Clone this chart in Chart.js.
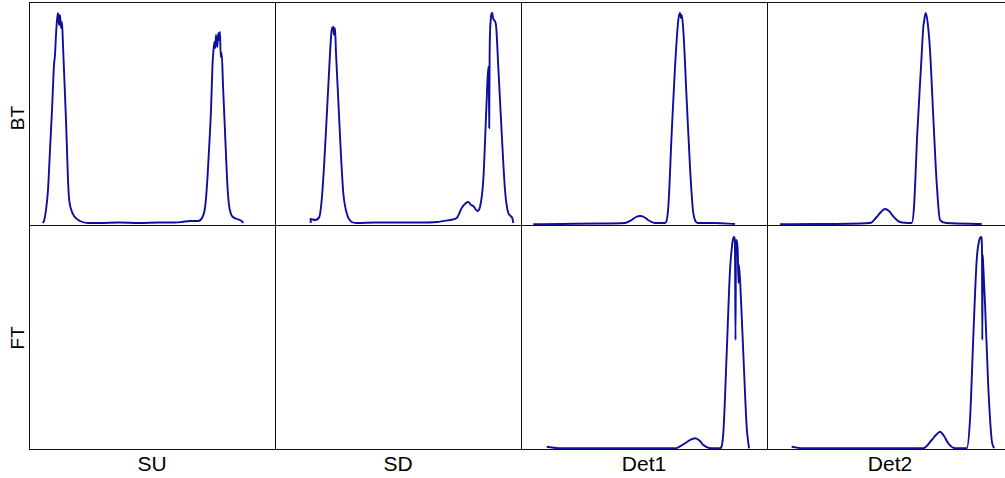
<!DOCTYPE html>
<html>
<head>
<meta charset="utf-8">
<script src="https://cdn.jsdelivr.net/npm/chart.js@4/dist/chart.umd.min.js"></script>
<style>
  html,body{margin:0;padding:0;background:#fff;}
  body{width:1005px;height:478px;overflow:hidden;position:relative;font-family:"Liberation Sans",Arial,Helvetica,sans-serif;color:#000;}
  canvas{position:absolute;}
  .ln{position:absolute;background:#111;z-index:5;}
  .lab{position:absolute;font-size:21px;line-height:1;white-space:nowrap;transform:translate(-50%,-50%);}
  .rlab{position:absolute;font-size:19px;line-height:1;white-space:nowrap;transform:translate(-50%,-50%) rotate(-90deg);}
</style>
</head>
<body>
<script>
// ---- data (x: channel, y: counts) ----
const columns = ['SU', 'SD', 'Det1', 'Det2'];
const rows = ['BT', 'FT'];

const BT_SU = [[13.7,2],[15,4],[17,15],[19,35],[21,75],[23,115],[25,160],[26,170],[27,190],[28,205],[29,212],[30,200],[31,210],[32,197],[33,203],[34,180],[35,155],[36,130],[37,105],[38,75],[39,45],[40,27],[42,16],[45,9],[51,4],[59,2],[70,2],[90,2.5],[110,2],[130,2.5],[146,2.5],[153,3],[161,4],[169,4],[173,7],[176,17],[178,40],[180,75],[182,115],[183.5,160],[184.5,175],[185.5,183],[186.3,177],[187,190],[188.3,178],[189.3,192],[190,185],[191,193],[191.7,168],[192.7,172],[194,140],[195.5,105],[197,70],[198.5,38],[200,20],[202,11],[204,8],[208,6],[212.7,4],[214.3,2]];

const BT_SD = [[35.7,2],[35.7,6],[40,5],[44.3,8],[46.7,25],[49,58],[51.7,108],[54.3,158],[56.7,195],[58.3,198],[59,190],[60,197],[61,172],[63.3,125],[65.7,75],[68.3,32],[71.7,12],[76.7,3],[81.7,2],[100,2.5],[125,2.5],[145,2.5],[161.7,3],[175,5],[181.7,7],[186.7,17],[191,22],[193.3,23],[196,20],[198.3,19],[202.3,14],[205,18],[208.3,45],[211.7,125],[213.3,158],[213.8,155],[214.2,97],[214.6,165],[215,192],[217.3,212],[218,207],[219,205],[221,200],[223.3,158],[226.7,92],[230,35],[233.3,12],[237.3,7],[238.3,2]];

const BT_DET1 = [[12.3,0.7],[40,1],[79,1.5],[104,2],[110.7,5],[115,8],[119,9],[123,8],[127,5],[134,2],[144,2],[147.3,18],[150.7,92],[154,158],[157.3,205],[159,212],[160,207],[160.7,210],[162.3,195],[165.7,125],[169,58],[172.3,12],[177.3,2],[194,2],[214,1]];

const BT_DET2 = [[13,0.7],[50,1],[103,2],[109.7,8],[114,13],[118,16],[122,14],[126,9],[133,3],[144.7,2],[147,18],[150.3,92],[154,158],[156.3,198],[157,203],[158.7,212],[160.7,202],[163,175],[166.3,108],[169.7,42],[173,5],[179.7,2],[214.7,1]];

const FT_SU = [];
const FT_SD = [];

const FT_DET1 = [[25.7,2.3],[31,1.5],[37.3,0.7],[100,0.7],[154,0.7],[164,5.7],[169,9],[174,10.7],[179,8],[182.3,4],[190.7,0.7],[199,0.7],[202.3,15.7],[205.7,96],[209,179],[211.3,206],[212.3,211],[213.3,212],[214,199],[214.5,109],[215,209],[216.7,199],[217.5,166],[218,184],[220,149],[222.3,96],[225.7,22],[228,0.7]];

const FT_DET2 = [[24.7,2.3],[36.3,0.7],[100,0.7],[156.3,0.7],[164.7,9],[169,14],[173,17.3],[177,13],[181.3,5.7],[188,0.7],[199.7,0.7],[203,29],[206.3,112],[209.7,189],[212.3,209],[214.3,212],[215,199],[215.3,109],[215.7,194],[216.3,182],[218,146],[221.3,62],[224.7,9],[227,0.7]];

const panels = [[BT_SU, BT_SD, BT_DET1, BT_DET2],[FT_SU, FT_SD, FT_DET1, FT_DET2]];

// ---- layout ----
const colLeft = [29, 275, 521, 767];
const colW = 246;
const rowTop = [2, 225];
const rowH = [223, 224];
const lineColor = '#0e0e9e';

function addDiv(cls, style, text){
  const d = document.createElement('div');
  d.className = cls;
  Object.assign(d.style, style);
  if (text) d.textContent = text;
  document.body.appendChild(d);
  return d;
}

for (let r = 0; r < rows.length; r++) {
  for (let c = 0; c < columns.length; c++) {
    const cv = document.createElement('canvas');
    cv.width = colW; cv.height = rowH[r];
    cv.style.left = colLeft[c] + 'px';
    cv.style.top = rowTop[r] + 'px';
    cv.style.width = colW + 'px';
    cv.style.height = rowH[r] + 'px';
    document.body.appendChild(cv);
    new Chart(cv, {
      type: 'line',
      data: {
        datasets: [{
          data: panels[r][c].map(([x, y]) => ({x, y})),
          borderColor: lineColor,
          borderWidth: 1.9,
          pointRadius: 0,
          fill: false,
          cubicInterpolationMode: 'monotone'
        }]
      },
      options: {
        responsive: false,
        animation: false,
        devicePixelRatio: 1,
        layout: {padding: 0},
        plugins: {legend: {display: false}, tooltip: {enabled: false}},
        scales: {
          x: {type: 'linear', min: 0, max: colW, display: false},
          y: {type: 'linear', min: 0, max: rowH[r], display: false}
        }
      }
    });
  }
}

// panel frame lines
const gridBottom = rowTop[1] + rowH[1];
for (const x of colLeft) addDiv('ln', {left: x + 'px', top: rowTop[0] + 'px', width: '1px', height: (gridBottom - rowTop[0] + 1) + 'px'});
for (const y of [rowTop[0], rowTop[1], gridBottom]) addDiv('ln', {left: colLeft[0] + 'px', top: y + 'px', width: (1005 - colLeft[0]) + 'px', height: '1px'});

// labels
const rowCenters = [118, 338];
rows.forEach((t, i) => addDiv('rlab', {left: '17px', top: rowCenters[i] + 'px'}, t));
columns.forEach((t, i) => addDiv('lab', {left: (colLeft[i] + colW / 2) + 'px', top: '463px'}, t));
</script>
</body>
</html>
